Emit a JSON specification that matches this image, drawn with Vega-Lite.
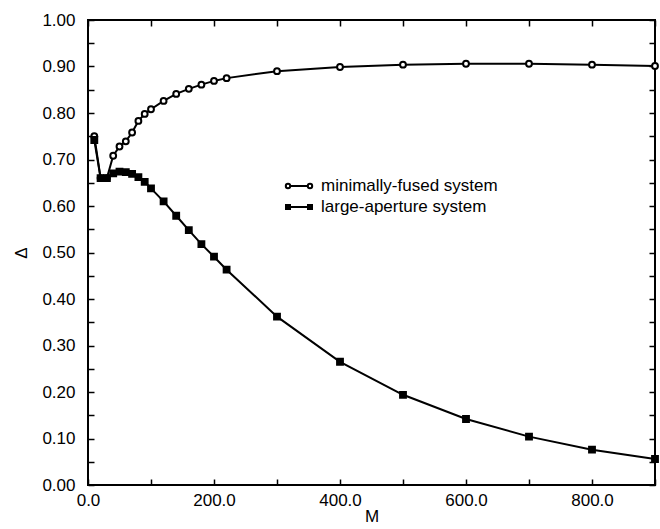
{
  "$schema": "https://vega.github.io/schema/vega-lite/v6.json",
  "autosize": {"type": "none"},
  "width": 567,
  "height": 465,
  "padding": {"left": 88, "top": 20, "right": 5, "bottom": 44},
  "background": "white",
  "config": {
    "view": {"stroke": "black", "strokeWidth": 2},
    "font": "Liberation Sans",
    "axis": {"grid": false, "domain": false, "tickColor": "black", "tickWidth": 1.5, "tickSize": -6, "labelFont": "Liberation Sans", "labelFontSize": 17, "labelColor": "black", "titleFont": "Liberation Sans", "titleFontSize": 17, "titleFontWeight": "normal", "titleColor": "black"}
  },
  "data": {"values": [
    {"M": 10, "delta": 0.750, "series": "minimally-fused system"},
    {"M": 20, "delta": 0.660, "series": "minimally-fused system"},
    {"M": 30, "delta": 0.660, "series": "minimally-fused system"},
    {"M": 40, "delta": 0.708, "series": "minimally-fused system"},
    {"M": 50, "delta": 0.728, "series": "minimally-fused system"},
    {"M": 60, "delta": 0.739, "series": "minimally-fused system"},
    {"M": 70, "delta": 0.758, "series": "minimally-fused system"},
    {"M": 80, "delta": 0.783, "series": "minimally-fused system"},
    {"M": 90, "delta": 0.798, "series": "minimally-fused system"},
    {"M": 100, "delta": 0.808, "series": "minimally-fused system"},
    {"M": 120, "delta": 0.826, "series": "minimally-fused system"},
    {"M": 140, "delta": 0.841, "series": "minimally-fused system"},
    {"M": 160, "delta": 0.852, "series": "minimally-fused system"},
    {"M": 180, "delta": 0.861, "series": "minimally-fused system"},
    {"M": 200, "delta": 0.869, "series": "minimally-fused system"},
    {"M": 220, "delta": 0.875, "series": "minimally-fused system"},
    {"M": 300, "delta": 0.890, "series": "minimally-fused system"},
    {"M": 400, "delta": 0.899, "series": "minimally-fused system"},
    {"M": 500, "delta": 0.904, "series": "minimally-fused system"},
    {"M": 600, "delta": 0.906, "series": "minimally-fused system"},
    {"M": 700, "delta": 0.906, "series": "minimally-fused system"},
    {"M": 800, "delta": 0.904, "series": "minimally-fused system"},
    {"M": 900, "delta": 0.901, "series": "minimally-fused system"},
    {"M": 10, "delta": 0.742, "series": "large-aperture system"},
    {"M": 20, "delta": 0.660, "series": "large-aperture system"},
    {"M": 30, "delta": 0.660, "series": "large-aperture system"},
    {"M": 40, "delta": 0.670, "series": "large-aperture system"},
    {"M": 50, "delta": 0.674, "series": "large-aperture system"},
    {"M": 60, "delta": 0.673, "series": "large-aperture system"},
    {"M": 70, "delta": 0.669, "series": "large-aperture system"},
    {"M": 80, "delta": 0.662, "series": "large-aperture system"},
    {"M": 90, "delta": 0.652, "series": "large-aperture system"},
    {"M": 100, "delta": 0.638, "series": "large-aperture system"},
    {"M": 120, "delta": 0.610, "series": "large-aperture system"},
    {"M": 140, "delta": 0.579, "series": "large-aperture system"},
    {"M": 160, "delta": 0.548, "series": "large-aperture system"},
    {"M": 180, "delta": 0.518, "series": "large-aperture system"},
    {"M": 200, "delta": 0.491, "series": "large-aperture system"},
    {"M": 220, "delta": 0.463, "series": "large-aperture system"},
    {"M": 300, "delta": 0.362, "series": "large-aperture system"},
    {"M": 400, "delta": 0.265, "series": "large-aperture system"},
    {"M": 500, "delta": 0.194, "series": "large-aperture system"},
    {"M": 600, "delta": 0.142, "series": "large-aperture system"},
    {"M": 700, "delta": 0.104, "series": "large-aperture system"},
    {"M": 800, "delta": 0.076, "series": "large-aperture system"},
    {"M": 900, "delta": 0.056, "series": "large-aperture system"}
  ]},
  "layer": [
    {
      "mark": {"type": "line", "color": "black", "strokeWidth": 2},
      "encoding": {
        "x": {"field": "M", "type": "quantitative", "scale": {"domain": [0, 900], "nice": false},
              "axis": {"orient": "bottom", "title": "M", "values": [0,100,200,300,400,500,600,700,800,900], "labelExpr": "datum.value % 200 == 0 ? format(datum.value, '.1f') : ''", "labelPadding": 13, "titlePadding": 0, "labelFlush": false}},
        "y": {"field": "delta", "type": "quantitative", "scale": {"domain": [0, 1], "nice": false},
              "axis": {"orient": "left", "title": "Δ", "values": [0,0.05,0.1,0.15,0.2,0.25,0.3,0.35,0.4,0.45,0.5,0.55,0.6,0.65,0.7,0.75,0.8,0.85,0.9,0.95,1.0], "labelExpr": "round(datum.value*100) % 10 == 0 ? format(datum.value, '.2f') : ''", "labelPadding": 19, "titlePadding": 11, "labelFlush": false}},
        "detail": {"field": "series"}
      }
    },
    {
      "mark": {"type": "point", "filled": false, "stroke": "black", "strokeWidth": 2, "size": 34, "opacity": 1},
      "encoding": {
        "x": {"field": "M", "type": "quantitative",
              "axis": {"orient": "top", "title": null, "labels": false, "values": [0,100,200,300,400,500,600,700,800,900]}},
        "y": {"field": "delta", "type": "quantitative",
              "axis": {"orient": "right", "title": null, "labels": false, "values": [0,0.05,0.1,0.15,0.2,0.25,0.3,0.35,0.4,0.45,0.5,0.55,0.6,0.65,0.7,0.75,0.8,0.85,0.9,0.95,1.0]}},
        "shape": {"field": "series", "type": "nominal",
                  "scale": {"domain": ["minimally-fused system", "large-aperture system"], "range": ["circle", "square"]},
                  "legend": null},
        "fill": {"field": "series", "type": "nominal",
                 "scale": {"domain": ["minimally-fused system", "large-aperture system"], "range": ["white", "black"]},
                 "legend": null}
      }
    },
    {
      "transform": [{"filter": "false"}],
      "mark": {"type": "point", "filled": false, "stroke": "black", "strokeWidth": 2},
      "encoding": {
        "x": {"field": "M", "type": "quantitative", "axis": null},
        "y": {"field": "delta", "type": "quantitative", "axis": null},
        "shape": {"field": "series", "type": "nominal",
                  "scale": {"domain": ["minimally-fused system", "large-aperture system"],
                            "range": ["M-1.32,0A0.22,0.22 0 1,0 -0.88,0A0.22,0.22 0 1,0 -1.32,0Z M0.88,0A0.22,0.22 0 1,0 1.32,0A0.22,0.22 0 1,0 0.88,0Z M-0.88,0L0.88,0",
                                      "M-1.3,-0.2L-0.9,-0.2L-0.9,0.2L-1.3,0.2Z M0.9,-0.2L1.3,-0.2L1.3,0.2L0.9,0.2Z M-1.3,0L1.3,0"]},
                  "legend": {"title": null, "orient": "none", "legendX": 200, "legendY": 155, "padding": 0,
                             "symbolSize": 400, "symbolStrokeWidth": 2, "symbolStrokeColor": "black", "symbolOpacity": 1,
                             "labelFontSize": 17, "labelFont": "Liberation Sans", "labelColor": "black", "labelOffset": 11, "rowPadding": 2, "labelLimit": 400}}
      }
    }
  ],
  "resolve": {"axis": {"x": "independent", "y": "independent"}, "scale": {"shape": "independent"}}
}
